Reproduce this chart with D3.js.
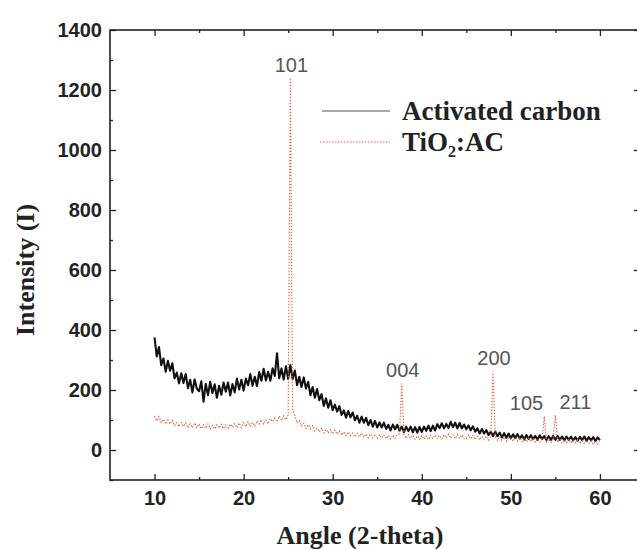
<!DOCTYPE html>
<html><head><meta charset="utf-8">
<script src="https://cdn.jsdelivr.net/npm/d3@7"></script>
<style>body{margin:0;background:#fff}</style>
</head><body>
<svg id="chart" width="637" height="550"></svg>
<script>
// ---- data ----
const angleStart = 10;      // degrees 2-theta, sampling grid start
const angleStep = 0.25;     // sampling grid step
const activatedCarbon = [
  375,312,343,283,305,261,297,264,289,239,258,222,256,223,253,206,234,192,235,204,
  196,229,161,221,183,227,190,219,174,214,184,225,194,225,182,220,192,238,202,234,
  198,238,216,253,214,244,213,260,231,271,232,261,231,272,247,322,239,272,235,279,
  237,283,236,265,216,244,210,242,205,227,183,210,174,203,166,186,147,172,141,166,
  133,151,128,146,117,132,108,130,109,125,99,114,91,111,91,107,83,100,78,97,
  75,92,75,91,70,84,65,85,69,84,64,78,60,78,63,78,59,76,58,77,
  60,78,64,81,63,81,65,86,73,89,72,87,73,94,76,91,72,90,72,85,
  69,82,66,79,61,72,55,70,55,66,50,61,46,62,46,58,42,56,41,55,
  39,52,40,53,38,49,35,50,37,49,36,47,34,49,36,46,33,46,34,47,
  34,47,34,45,32,45,34,45,32,43,31,44,33,45,31,43,32,43,30,42,33
];
const tio2AC = [
  113,97,111,91,102,86,100,87,99,81,91,78,91,79,91,74,87,74,90,74,
  87,71,84,72,87,71,82,70,84,73,86,71,84,70,86,76,88,74,90,75,
  91,78,94,79,92,80,97,86,101,87,101,87,105,94,107,94,113,99,114,101,
  116,1240,135,115,90,98,80,90,72,84,71,81,63,73,61,73,57,69,57,68,
  54,66,53,63,49,60,48,60,48,57,44,55,44,56,42,53,40,53,41,52,
  39,51,40,51,38,49,37,50,39,51,53,222,51,39,51,39,49,36,47,36,
  48,36,47,35,49,38,50,38,49,37,51,40,52,39,50,38,51,39,50,38,
  37,49,37,49,35,46,34,46,35,46,33,46,262,44,32,45,32,43,31,41,
  41,30,41,30,42,28,39,27,39,28,39,26,37,26,39,112,27,37,25,36,
  117,26,36,24,35,24,35,23,33,24,34,22,32,21,32,22,31,20,31,20,29
];
const peakLabels  = ["101", "004", "200", "105", "211"];
const peakAngles  = [25.25, 37.75, 48.0, 53.75, 55.0];
const peakHeights = [1240, 222, 262, 112, 117];
const peakAnchors = ["middle", "middle", "middle", "end", "start"];
const xTickValues = [10, 20, 30, 40, 50, 60];
const xMinorValues = [15, 25, 35, 45, 55];
const yTickValues = [0, 200, 400, 600, 800, 1000, 1200, 1400];
const yMinorValues = [-100, 100, 300, 500, 700, 900, 1100, 1300];
const seriesNames = ["Activated carbon", "TiO2:AC"];
const xTitle = "Angle (2-theta)";
const yTitle = "Intensity (I)";

// ---- layout ----
const svg = d3.select("#chart");
const L = 110, R = 640, T = 30, B = 480;
const x = d3.scaleLinear().domain([5, 64.5]).range([L, R]);
const y = d3.scaleLinear().domain([-100, 1400]).range([B, T]);

svg.append("rect").attr("width", 637).attr("height", 550).attr("fill", "#fff");

const angles = activatedCarbon.map((_, i) => angleStart + i * angleStep);
const acData = activatedCarbon.map((v, i) => ({a: angles[i], v}));
const tiData = tio2AC.map((v, i) => ({a: angles[i], v}));
const line = d3.line().x(d => x(d.a)).y(d => y(d.v));

svg.append("path").datum(acData).attr("d", line)
  .attr("fill", "none").attr("stroke", "#111").attr("stroke-width", 2.1)
  .attr("stroke-linejoin", "round");
svg.append("path").datum(tiData).attr("d", line)
  .attr("fill", "none").attr("stroke", "#e2654a").attr("stroke-width", 1.1)
  .attr("stroke-dasharray", "1.5,1.5");

// peak labels
peakLabels.forEach((lab, i) => {
  const px = x(peakAngles[i]);
  const dx = peakAnchors[i] === "end" ? -1 : (peakAnchors[i] === "start" ? 4 : 1);
  svg.append("text").attr("x", px + dx).attr("y", y(peakHeights[i]) - 6)
    .attr("text-anchor", peakAnchors[i])
    .attr("font-family", "Liberation Sans, Arial, sans-serif")
    .attr("font-size", 20).attr("fill", "#555").text(lab);
});

// axes
function styleAxis(g) {
  g.select(".domain").remove();
  g.selectAll(".tick line").attr("stroke", "#222").attr("stroke-width", 1.3);
  g.selectAll(".tick text").attr("font-family", "Liberation Sans, Arial, sans-serif")
    .attr("font-size", 20).attr("font-weight", "bold").attr("fill", "#222");
}
const ax = (gen, tx, ty) => svg.append("g").attr("transform", `translate(${tx},${ty})`).call(gen).call(styleAxis);

ax(d3.axisBottom(x).tickValues(xTickValues).tickSize(-6).tickPadding(11).tickFormat(d3.format("d")), 0, B);
ax(d3.axisBottom(x).tickValues(xMinorValues).tickSize(-3).tickFormat(""), 0, B);
ax(d3.axisTop(x).tickValues(xTickValues).tickSize(-6).tickFormat(""), 0, T);
ax(d3.axisTop(x).tickValues(xMinorValues).tickSize(-3).tickFormat(""), 0, T);
ax(d3.axisLeft(y).tickValues(yTickValues).tickSize(-6).tickPadding(8).tickFormat(d3.format("d")), L, 0);
ax(d3.axisLeft(y).tickValues(yMinorValues).tickSize(-3).tickFormat(""), L, 0);
ax(d3.axisRight(y).tickValues(yTickValues).tickSize(-6).tickFormat(""), R, 0);
ax(d3.axisRight(y).tickValues(yMinorValues).tickSize(-3).tickFormat(""), R, 0);

svg.append("rect").attr("x", L).attr("y", T).attr("width", R - L).attr("height", B - T)
  .attr("fill", "none").attr("stroke", "#222").attr("stroke-width", 1.6);

// titles
svg.append("text").attr("x", 360).attr("y", 544).attr("text-anchor", "middle")
  .attr("font-family", "Liberation Serif, Times New Roman, serif").attr("font-weight", "bold")
  .attr("font-size", 26).attr("fill", "#222").text(xTitle);
svg.append("text").attr("transform", "translate(34,270) rotate(-90)").attr("text-anchor", "middle")
  .attr("font-family", "Liberation Serif, Times New Roman, serif").attr("font-weight", "bold")
  .attr("font-size", 26).attr("fill", "#222").text(yTitle);

// legend
const lg = svg.append("g");
lg.append("line").attr("x1", 322).attr("x2", 390).attr("y1", 111).attr("y2", 111)
  .attr("stroke", "#555").attr("stroke-width", 1.2);
lg.append("line").attr("x1", 320).attr("x2", 390).attr("y1", 142).attr("y2", 142)
  .attr("stroke", "#e2654a").attr("stroke-width", 1.1).attr("stroke-dasharray", "1.5,1.5");
lg.append("text").attr("x", 402).attr("y", 120)
  .attr("font-family", "Liberation Serif, Times New Roman, serif").attr("font-weight", "bold")
  .attr("font-size", 27).attr("fill", "#222").text(seriesNames[0]);
const t2 = lg.append("text").attr("x", 402).attr("y", 151)
  .attr("font-family", "Liberation Serif, Times New Roman, serif").attr("font-weight", "bold")
  .attr("font-size", 27).attr("fill", "#222");
t2.append("tspan").text("TiO");
t2.append("tspan").attr("font-size", 16).attr("dy", 6).text("2");
t2.append("tspan").attr("dy", -6).text(":AC");
</script>
</body></html>
